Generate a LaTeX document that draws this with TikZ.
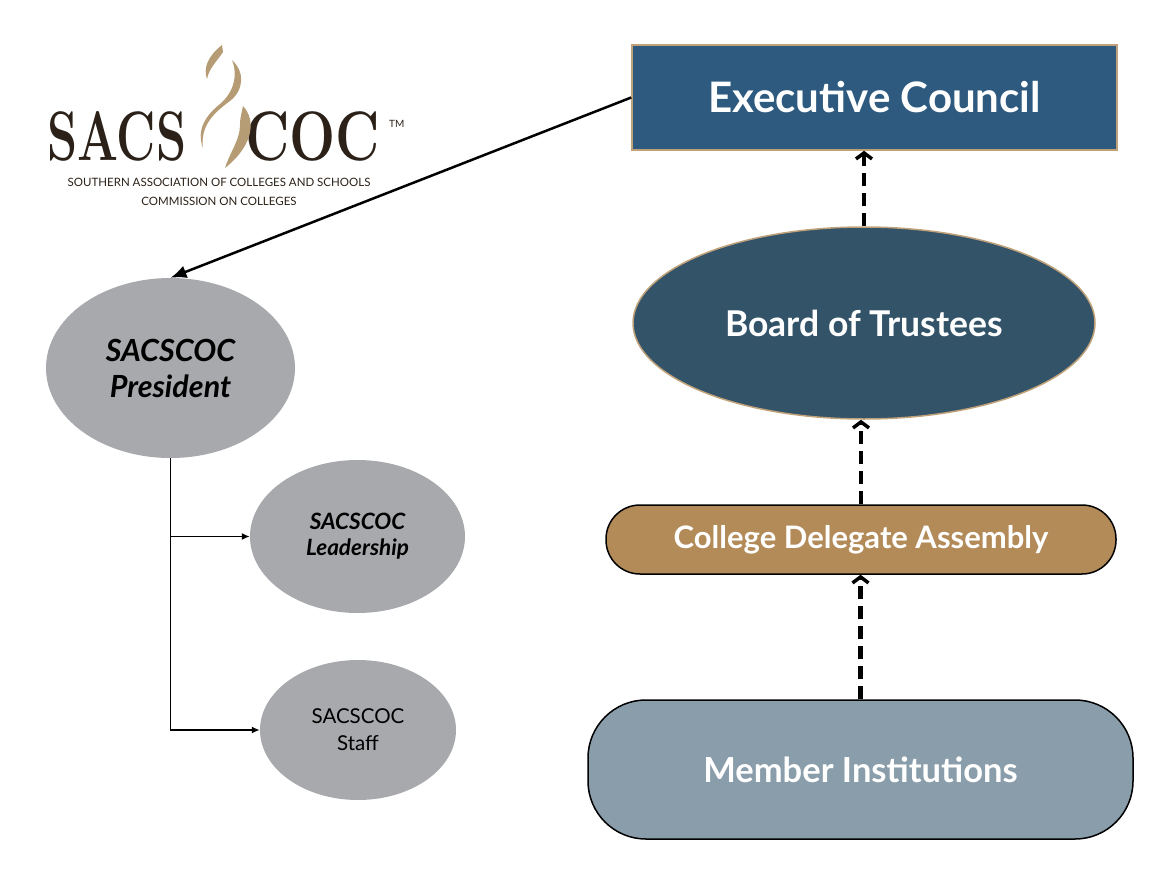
\documentclass[tikz,border=0pt]{standalone}
\usepackage{graphicx}
\usepackage{fontspec}
\setsansfont{Lato}
\usetikzlibrary{shapes.geometric,arrows.meta}
\definecolor{execblue}{HTML}{2E5A7F}
\definecolor{boardblue}{HTML}{335369}
\definecolor{edgetan}{HTML}{C0A27A}
\definecolor{cdabrown}{HTML}{B38B59}
\definecolor{memberblue}{HTML}{8A9DAA}
\definecolor{ovalgray}{HTML}{A7A9AC}
\definecolor{logobrown}{HTML}{2B2118}
\definecolor{flamegold}{HTML}{B69C75}
\begin{document}
\begin{tikzpicture}[x=1pt,y=-1pt,
    toptext/.style={text=white,font=\sffamily\bfseries},
    logotext/.style={font=\rmfamily\bfseries\fontsize{70}{70}\selectfont,text=logobrown,inner sep=0pt,anchor=base west},
    grayoval/.style={ellipse,fill=ovalgray,inner sep=0pt,align=center,text=black},
    dasharrow/.style={line width=4.5pt,dash pattern=on 13pt off 7pt,
        -{Straight Barb[length=6pt,width=16pt,line width=3.5pt]}}]
    \useasboundingbox (0,0) rectangle (1172,891);
    % logo
    \node[logotext] (sacs) at (47,160) {\scalebox{0.69}[1]{SACS}};
    \node[logotext] (coc) at (245,160) {\scalebox{0.78}[1]{COC}};
    \node[font=\sffamily\fontsize{10}{10}\selectfont,text=logobrown,inner sep=0pt,anchor=base west] (tm) at (389,127) {TM};
    \fill[flamegold] (222,45) .. controls (208,56) and (203,68) .. (207,79) .. controls (209,68) and (218,60) .. (223,52) -- cycle;
    \fill[flamegold] (232,60) .. controls (245,72) and (244,90) .. (230,101) .. controls (215,112) and (200,125) .. (203,148)
        .. controls (196,130) and (206,115) .. (220,104) .. controls (234,92) and (238,75) .. (232,60) -- cycle;
    \fill[flamegold] (243,106) .. controls (256,120) and (254,145) .. (225,168) .. controls (230,152) and (240,140) .. (240,125)
        .. controls (240,117) and (242,112) .. (243,106) -- cycle;
    \node[font=\sffamily\fontsize{11.5}{19}\selectfont,text=logobrown,align=center] (subtitle) at (219,192)
        {SOUTHERN ASSOCIATION OF COLLEGES AND SCHOOLS\\COMMISSION ON COLLEGES};
    % right column
    \node[rectangle,draw=edgetan,line width=1.5pt,fill=execblue,minimum width=485pt,minimum height=105pt,
        toptext,font=\sffamily\bfseries\fontsize{42}{46}\selectfont] (exec) at (874.5,97.5) {Executive Council};
    \node[ellipse,draw=edgetan,line width=1.5pt,fill=boardblue,minimum width=462pt,minimum height=192pt,inner sep=0pt,
        toptext,font=\sffamily\bfseries\fontsize{35.5}{40}\selectfont] (board) at (864,323) {Board of Trustees};
    \node[rectangle,rounded corners=34pt,draw=black,line width=1.5pt,fill=cdabrown,minimum width=510pt,minimum height=69pt,
        toptext,font=\sffamily\bfseries\fontsize{31}{34}\selectfont] (cda) at (861,539.5) {College Delegate Assembly};
    \node[rectangle,rounded corners=58pt,draw=black,line width=1.5pt,fill=memberblue,minimum width=545pt,minimum height=139pt,
        toptext,font=\sffamily\bfseries\fontsize{34.5}{38}\selectfont] (member) at (860.5,769.5) {Member Institutions};
    \draw[dasharrow] (member.north) -- (member.north |- cda.south);
    \draw[dasharrow] (cda.north) -- (cda.north |- board.south);
    \draw[dasharrow] (board.north) -- (board.north |- exec.south);
    % left column
    \node[grayoval,minimum width=249pt,minimum height=180pt,font=\sffamily\bfseries\itshape\fontsize{30.5}{36}\selectfont] (pres) at (170.5,368) {SACSCOC\\President};
    \node[grayoval,minimum width=215pt,minimum height=153pt,font=\sffamily\bfseries\itshape\fontsize{22.5}{26}\selectfont] (lead) at (357.5,536.5) {SACSCOC\\Leadership};
    \node[grayoval,minimum width=196pt,minimum height=140pt,font=\sffamily\fontsize{20.5}{27}\selectfont] (staff) at (358,730) {SACSCOC\\Staff};
    \draw[line width=2.5pt,-{Latex[length=16pt,width=13pt]}] (exec.west) -- (pres.north);
    \draw[line width=1.8pt,-{Latex[length=8pt,width=7pt]}] (pres.south) |- (lead.west);
    \draw[line width=1.8pt,-{Latex[length=8pt,width=7pt]}] (pres.south) |- (staff.west);
\end{tikzpicture}
\end{document}
